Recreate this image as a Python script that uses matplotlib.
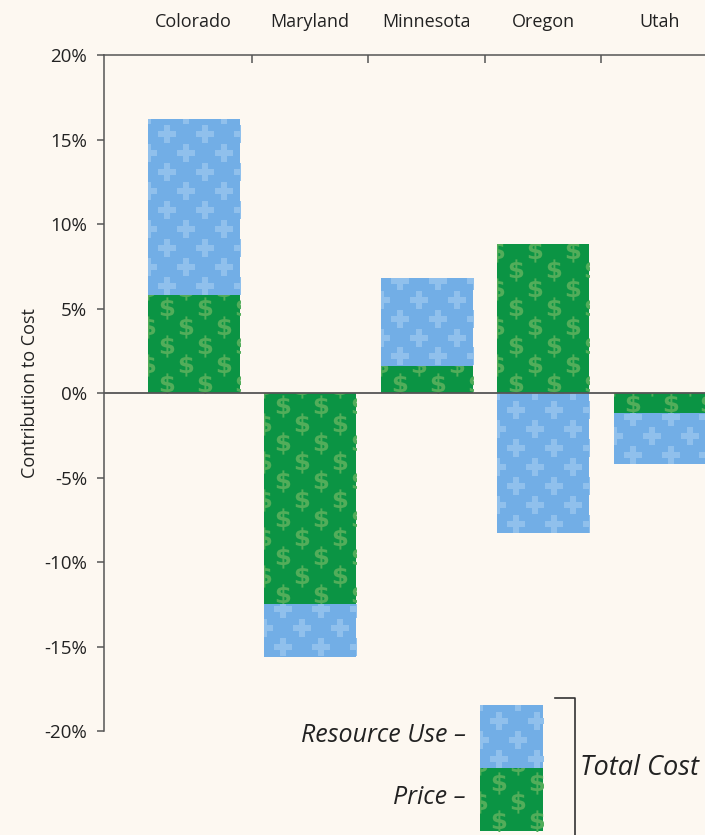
import numpy as np
import matplotlib.pyplot as plt
from matplotlib.lines import Line2D

# данные: вклад цены и использования ресурсов в общие затраты, %
states = ["Colorado", "Maryland", "Minnesota", "Oregon", "Utah"]
price = [5.8, -12.5, 1.6, 8.8, -1.2]
resource_use = [10.4, -3.1, 5.2, -8.3, -3.0]
yticks = [20, 15, 10, 5, 0, -5, -10, -15, -20]

BG = "#fdf8f1"
BLUE, BLUE_DOT = "#72aee6", "#90c0ec"
GREEN, GREEN_DOT = "#0b9444", "#52ad5a"
DX, DY = 0.326, 1.12  # шаг узора в единицах данных
DOLLAR = r"$\mathbf{\$}$"


def patterned_bar(ax, x, bottom, height, width, color, dot_color, marker, ms, clip=True):
    rect = ax.bar(x, height, width=width, bottom=bottom, color=color, linewidth=0,
                  zorder=2, clip_on=clip)[0]
    y0, y1 = sorted([bottom, bottom + height])
    xs, ys = [], []
    for i, yy in enumerate(np.arange(y0 + DY / 2, y1 + DY, DY)):
        shift = (i % 2) * DX / 2
        for xx in np.arange(x - width / 2 - DX / 2 + shift, x + width / 2 + DX, DX):
            xs.append(xx)
            ys.append(yy)
    pts, = ax.plot(xs, ys, linestyle="none", marker=marker, ms=ms, color=dot_color,
                   markeredgewidth=0, zorder=3)
    pts.set_clip_path(rect)
    return rect


fig = plt.figure(figsize=(7.05, 8.35), dpi=100, facecolor=BG)
plt.rcParams["font.family"] = ["Open Sans", "DejaVu Sans"]
ax = fig.add_axes([104 / 705, 1 - 731 / 835, 1 - 104 / 705, (731 - 55) / 835])
ax.set_facecolor(BG)

width = 0.79
x = np.arange(len(states))
for i in x:
    p, r = price[i], resource_use[i]
    patterned_bar(ax, i, 0, p, width, GREEN, GREEN_DOT, DOLLAR, 16)
    base = p if np.sign(p) == np.sign(r) else 0
    patterned_bar(ax, i, base, r, width, BLUE, BLUE_DOT, "P", 13)

ax.axhline(0, color="#555555", lw=1.3, zorder=4)
ax.set_xlim(-0.77, 4.39)
ax.set_ylim(-20, 20)

for side in ["right", "bottom"]:
    ax.spines[side].set_visible(False)
for side in ["left", "top"]:
    ax.spines[side].set_color("#555555")
    ax.spines[side].set_linewidth(1.1)

ax.xaxis.tick_top()
ax.set_xticks(x)
ax.set_xticklabels(states, fontsize=13, color="#222222")
ax.tick_params(axis="x", which="major", length=0, pad=17)
ax.set_xticks(x[:-1] + 0.5, minor=True)
ax.tick_params(axis="x", which="minor", direction="in", length=6, color="#555555", width=1.1)

ax.set_yticks(yticks)
ax.set_yticklabels([f"{v}%" for v in yticks], fontsize=13.5, color="#222222")
ax.tick_params(axis="y", direction="out", length=5, color="#555555", width=1.1, pad=7)
ax.set_ylabel("Contribution to Cost", fontsize=13, color="#222222", labelpad=4)

# легенда, нарисованная вручную
lx = 2.725
patterned_bar(ax, lx, -18.45, -3.75, 0.54, BLUE, BLUE_DOT, "P", 13, clip=False)
patterned_bar(ax, lx, -22.2, -3.7, 0.54, GREEN, GREEN_DOT, DOLLAR, 16, clip=False)
fig.text(466 / 705, 1 - 736 / 835, "Resource Use –", ha="right", va="center",
         style="italic", fontsize=18, color="#222222")
fig.text(466 / 705, 1 - 797 / 835, "Price –", ha="right", va="center",
         style="italic", fontsize=18, color="#222222")
fig.text(580 / 705, 1 - 768 / 835, "Total Cost", ha="left", va="center",
         style="italic", fontsize=19.5, color="#222222")
fig.add_artist(Line2D([555 / 705, 575 / 705, 575 / 705], [1 - 698 / 835, 1 - 698 / 835, 0],
                      transform=fig.transFigure, color="#333333", lw=1.2))

fig.savefig("out.png", dpi=100, facecolor=BG)
